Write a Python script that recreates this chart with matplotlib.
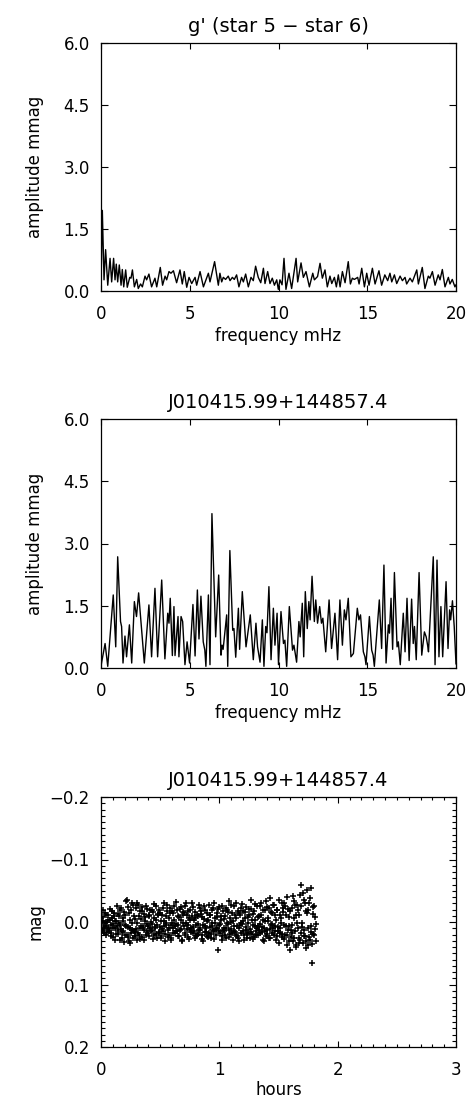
import matplotlib
import numpy as np
from matplotlib import pyplot as plt
from matplotlib.ticker import MultipleLocator, AutoMinorLocator, FuncFormatter

matplotlib.use('Agg')

plt.rcParams['font.family'] = ['DejaVu Sans']

# comparison star spectrum g' (star 5 - star 6)
cmp_freq = [0.0, 0.075, 0.17, 0.26, 0.38, 0.51, 0.60, 0.71, 0.79, 0.86, 0.94, 1.03, 1.13, 1.20,
            1.28, 1.39, 1.48, 1.62, 1.69, 1.77, 1.88, 2.01, 2.10, 2.23, 2.33, 2.48, 2.57, 2.70,
            2.85, 3.04, 3.14, 3.34, 3.47, 3.61, 3.70, 3.83, 3.94, 4.08, 4.26, 4.45, 4.58, 4.69,
            4.83, 4.96, 5.11, 5.30, 5.39, 5.58, 5.77, 6.05, 6.14, 6.40, 6.61, 6.70, 6.80, 6.89,
            7.02, 7.17, 7.27, 7.40, 7.51, 7.64, 7.77, 7.92, 8.02, 8.15, 8.30, 8.45, 8.58, 8.71,
            8.86, 9.00, 9.15, 9.24, 9.39, 9.52, 9.65, 9.77, 9.90, 9.99, 10.08, 10.20, 10.31,
            10.42, 10.59, 10.74, 10.99, 11.08, 11.27, 11.40, 11.55, 11.74, 11.93, 12.02, 12.20,
            12.34, 12.47, 12.62, 12.75, 12.90, 13.00, 13.15, 13.26, 13.37, 13.47, 13.60, 13.75,
            13.93, 14.05, 14.16, 14.27, 14.46, 14.54, 14.69, 14.84, 14.97, 15.10, 15.29, 15.44,
            15.66, 15.81, 15.99, 16.15, 16.28, 16.38, 16.53, 16.66, 16.85, 16.98, 17.13, 17.22,
            17.41, 17.54, 17.79, 17.88, 18.10, 18.25, 18.44, 18.53, 18.67, 18.82, 19.00, 19.10,
            19.23, 19.38, 19.57, 19.66, 19.79, 19.94, 20.0]
cmp_amp = [0.10, 1.95, 0.27, 1.00, 0.14, 0.79, 0.22, 0.79, 0.27, 0.65, 0.22, 0.63, 0.14, 0.52,
           0.10, 0.51, 0.09, 0.33, 0.31, 0.51, 0.10, 0.28, 0.06, 0.17, 0.10, 0.36, 0.27, 0.41,
           0.10, 0.31, 0.10, 0.57, 0.14, 0.36, 0.27, 0.47, 0.43, 0.49, 0.20, 0.51, 0.17, 0.47,
           0.09, 0.33, 0.18, 0.33, 0.14, 0.47, 0.10, 0.43, 0.22, 0.71, 0.14, 0.43, 0.22, 0.33,
           0.28, 0.36, 0.25, 0.33, 0.28, 0.39, 0.10, 0.33, 0.22, 0.41, 0.10, 0.33, 0.25, 0.60,
           0.33, 0.20, 0.55, 0.18, 0.47, 0.18, 0.31, 0.14, 0.27, 0.04, 0.27, 0.15, 0.79,
           0.04, 0.43, 0.06, 0.79, 0.22, 0.68, 0.33, 0.47, 0.10, 0.43, 0.27, 0.35,
           0.67, 0.31, 0.51, 0.10, 0.36, 0.18, 0.33, 0.10, 0.39, 0.10, 0.47, 0.20,
           0.71, 0.17, 0.31, 0.28, 0.33, 0.17, 0.55, 0.10, 0.43, 0.14, 0.55, 0.17,
           0.49, 0.14, 0.39, 0.25, 0.43, 0.22, 0.39, 0.18, 0.36, 0.25, 0.33, 0.17,
           0.31, 0.22, 0.51, 0.17, 0.57, 0.06, 0.36, 0.31, 0.47, 0.14, 0.39, 0.27,
           0.52, 0.10, 0.33, 0.17, 0.28, 0.10, 0.15]

# target spectrum J010415.99+144857.4
tgt_freq = [0.0, 0.23, 0.38, 0.69, 0.83, 0.94, 1.10, 1.16, 1.24, 1.35, 1.44, 1.60, 1.73, 1.88,
            2.00, 2.12, 2.44, 2.70, 2.85, 3.04, 3.19, 3.42, 3.60, 3.76, 3.83, 3.90, 4.02, 4.11,
            4.17, 4.34, 4.39, 4.51, 4.60, 4.73, 4.85, 4.99, 5.18, 5.30, 5.43, 5.52, 5.63, 5.76,
            5.85, 5.91, 6.05, 6.14, 6.25, 6.46, 6.63, 6.76, 6.82, 6.88, 7.08, 7.14, 7.26, 7.42,
            7.49, 7.59, 7.74, 7.81, 7.96, 8.17, 8.41, 8.58, 8.73, 8.82, 8.96, 9.09, 9.18, 9.28,
            9.35, 9.46, 9.58, 9.71, 9.80, 9.92, 10.00, 10.14, 10.28, 10.36, 10.46, 10.61, 10.79,
            10.87, 11.02, 11.15, 11.22, 11.34, 11.42, 11.51, 11.62, 11.71, 11.78, 11.89, 12.02,
            12.10, 12.20, 12.32, 12.42, 12.50, 12.66, 12.85, 12.99, 13.18, 13.33, 13.46, 13.60,
            13.71, 13.80, 13.93, 14.08, 14.22, 14.44, 14.53, 14.62, 14.78, 14.87, 14.93, 15.12,
            15.25, 15.33, 15.40, 15.48, 15.68, 15.81, 15.94, 16.06, 16.19, 16.25, 16.34, 16.43,
            16.53, 16.68, 16.75, 16.86, 17.03, 17.13, 17.24, 17.36, 17.50, 17.59, 17.66, 17.76,
            17.92, 18.07, 18.22, 18.32, 18.40, 18.45, 18.72, 18.82, 18.93, 19.04, 19.15, 19.25,
            19.44, 19.55, 19.64, 19.70, 19.80, 19.90, 20.0]
tgt_amp = [0.05, 0.59, 0.04, 1.76, 0.51, 2.68, 1.12, 1.00, 0.12, 0.77, 0.27, 1.04, 0.12, 1.60,
           1.24, 1.81, 0.12, 1.52, 0.27, 1.92, 0.27, 2.12, 0.22, 1.32, 1.08, 1.68, 0.30, 1.48,
           0.30, 1.24, 0.27, 1.24, 1.12, 0.08, 0.63, 0.12, 1.53, 0.29, 1.88, 0.70, 1.73, 0.63,
           0.43, 0.04, 1.76, 0.08, 3.72, 0.75, 2.24, 0.31, 0.55, 0.45, 1.28, 0.04, 2.83, 0.91,
           0.95, 0.26, 1.44, 0.45, 1.84, 0.51, 1.28, 0.20, 1.08, 0.51, 0.14, 1.16, 0.04, 1.00,
           0.85, 1.96, 0.20, 1.44, 0.55, 1.32, 0.08, 1.36, 0.59, 0.67, 0.04, 1.48, 0.43,
           0.55, 0.14, 1.12, 0.75, 1.56, 0.27, 1.84, 0.95, 1.60, 1.16, 2.21, 1.12,
           1.64, 1.08, 1.48, 1.08, 1.20, 0.39, 1.64, 0.47, 1.32, 0.20, 1.64, 0.55,
           1.40, 1.16, 1.68, 0.27, 0.35, 1.44, 1.16, 1.28, 0.39, 0.27, 0.08, 1.24,
           0.43, 0.31, 0.04, 0.51, 1.64, 0.47, 2.48, 0.12, 1.04, 0.84, 1.68, 0.45,
           2.30, 0.51, 0.63, 0.08, 1.32, 0.39, 1.68, 0.18, 1.66, 0.59, 1.00, 0.20,
           2.30, 0.31, 0.87, 0.75, 0.55, 0.39, 2.68, 0.08, 2.60, 0.27, 1.48, 0.27,
           2.08, 0.47, 1.40, 1.16, 1.62, 1.00, 0.10]

# light curve (hours, differential mag), two interleaved sets of exposures
lc_hours = [
    0.000, 0.007, 0.014, 0.021, 0.028, 0.035, 0.042, 0.049, 0.056, 0.063,
    0.070, 0.077, 0.084, 0.091, 0.098, 0.105, 0.112, 0.119, 0.126, 0.133,
    0.140, 0.147, 0.154, 0.161, 0.168, 0.175, 0.182, 0.189, 0.196, 0.203,
    0.210, 0.217, 0.224, 0.231, 0.238, 0.245, 0.252, 0.259, 0.266, 0.273,
    0.280, 0.287, 0.294, 0.301, 0.308, 0.315, 0.322, 0.329, 0.336, 0.343,
    0.350, 0.357, 0.364, 0.371, 0.378, 0.385, 0.392, 0.399, 0.406, 0.413,
    0.420, 0.427, 0.434, 0.441, 0.448, 0.455, 0.462, 0.469, 0.476, 0.483,
    0.490, 0.497, 0.504, 0.511, 0.518, 0.525, 0.532, 0.539, 0.546, 0.553,
    0.560, 0.567, 0.574, 0.581, 0.588, 0.595, 0.602, 0.609, 0.616, 0.623,
    0.630, 0.637, 0.644, 0.651, 0.658, 0.665, 0.672, 0.679, 0.686, 0.693,
    0.700, 0.707, 0.714, 0.721, 0.728, 0.735, 0.742, 0.749, 0.756, 0.763,
    0.770, 0.777, 0.784, 0.791, 0.798, 0.805, 0.812, 0.819, 0.826, 0.833,
    0.840, 0.847, 0.854, 0.861, 0.868, 0.875, 0.882, 0.889, 0.896, 0.903,
    0.910, 0.917, 0.924, 0.931, 0.938, 0.945, 0.952, 0.959, 0.966, 0.973,
    0.980, 0.987, 0.994, 1.001, 1.008, 1.015, 1.022, 1.029, 1.036, 1.043,
    1.050, 1.057, 1.064, 1.071, 1.078, 1.085, 1.092, 1.099, 1.106, 1.113,
    1.120, 1.127, 1.134, 1.141, 1.148, 1.155, 1.162, 1.169, 1.176, 1.183,
    1.190, 1.197, 1.204, 1.211, 1.218, 1.225, 1.232, 1.239, 1.246, 1.253,
    1.260, 1.267, 1.274, 1.281, 1.288, 1.295, 1.302, 1.309, 1.316, 1.323,
    1.330, 1.337, 1.344, 1.351, 1.358, 1.365, 1.372, 1.379, 1.386, 1.393,
    1.400, 1.407, 1.414, 1.421, 1.428, 1.435, 1.442, 1.449, 1.456, 1.463,
    1.470, 1.477, 1.484, 1.491, 1.498, 1.505, 1.512, 1.519, 1.526, 1.533,
    1.540, 1.547, 1.554, 1.561, 1.568, 1.575, 1.582, 1.589, 1.596, 1.603,
    1.610, 1.617, 1.624, 1.631, 1.638, 1.645, 1.652, 1.659, 1.666, 1.673,
    1.680, 1.687, 1.694, 1.701, 1.708, 1.715, 1.722, 1.729, 1.736, 1.743,
    1.750, 1.757, 1.764, 1.771, 1.778, 1.785, 1.792, 1.799, 1.806, 1.813,
]
lc_mag = [
    0.004, -0.008, 0.012, -0.002, 0.018, -0.015, 0.006, 0.000, -0.011, 0.009,
    0.015, -0.004, 0.022, -0.018, 0.003, 0.010, -0.009, 0.028, -0.001, 0.007,
    -0.013, 0.019, 0.002, -0.020, 0.011, 0.025, -0.006, 0.014, -0.016, 0.005,
    -0.034, 0.021, 0.008, -0.024, 0.030, -0.003, 0.017, -0.030, 0.012, 0.026,
    -0.010, 0.016, -0.022, 0.029, 0.001, -0.027, 0.020, 0.009, -0.005, 0.024,
    -0.017, 0.006, 0.013, -0.008, 0.021, -0.021, 0.003, 0.017, -0.012, 0.010,
    0.000, -0.019, 0.014, 0.027, -0.006, 0.008, -0.025, 0.019, 0.004, -0.011,
    0.016, -0.015, 0.023, -0.002, 0.011, -0.023, 0.007, 0.031, -0.009, 0.002,
    -0.028, 0.012, 0.020, -0.014, 0.005, 0.026, -0.018, 0.009, -0.004, 0.017,
    -0.032, 0.003, 0.015, -0.010, 0.022, -0.021, 0.011, -0.003, 0.028, -0.016,
    0.006, -0.026, 0.018, 0.001, -0.012, 0.024, -0.007, 0.013, -0.020, 0.009,
    -0.030, 0.017, -0.004, 0.026, -0.016, 0.004, 0.020, -0.009, 0.012, -0.023,
    0.010, -0.013, 0.021, 0.030, -0.005, 0.007, -0.019, 0.016, -0.001, 0.024,
    -0.027, 0.008, -0.011, 0.019, 0.002, -0.022, 0.014, 0.027, -0.007, 0.011,
    -0.015, 0.045, 0.005, -0.024, 0.018, -0.003, 0.022, -0.017, 0.009, 0.015,
    -0.009, 0.025, -0.020, 0.003, 0.013, -0.033, 0.019, 0.000, -0.014, 0.029,
    0.006, -0.025, 0.016, -0.006, 0.023, -0.018, 0.010, 0.031, -0.011, 0.002,
    -0.029, 0.014, -0.002, 0.021, -0.016, 0.008, 0.026, -0.008, 0.017, -0.021,
    0.011, -0.035, 0.019, 0.004, -0.013, 0.024, -0.004, 0.014, -0.026, 0.007,
    0.020, -0.010, 0.003, -0.031, 0.016, 0.029, -0.019, 0.009, -0.002, 0.022,
    -0.024, 0.012, -0.007, 0.026, -0.038, 0.005, 0.018, -0.014, 0.010, -0.028,
    0.015, -0.004, 0.023, -0.020, 0.008, 0.033, -0.011, 0.001, -0.031, 0.019,
    -0.016, 0.027, -0.026, 0.006, 0.021, -0.040, 0.012, -0.008, 0.045, 0.024,
    -0.022, 0.004, 0.030, -0.033, 0.015, -0.012, 0.040, -0.027, 0.009, 0.026,
    -0.044, 0.018, -0.060, 0.002, 0.034, -0.036, 0.022, -0.018, 0.041, -0.052,
    0.010, -0.030, 0.028, -0.055, 0.016, 0.065, -0.024, 0.020, -0.008, 0.031,
]
lc_hours_b = [
    0.0035, 0.0105, 0.0175, 0.0245, 0.0315, 0.0385, 0.0455, 0.0525, 0.0595, 0.0665,
    0.0735, 0.0805, 0.0875, 0.0945, 0.1015, 0.1085, 0.1155, 0.1225, 0.1295, 0.1365,
    0.1435, 0.1505, 0.1575, 0.1645, 0.1715, 0.1785, 0.1855, 0.1925, 0.1995, 0.2065,
    0.2135, 0.2205, 0.2275, 0.2345, 0.2415, 0.2485, 0.2555, 0.2625, 0.2695, 0.2765,
    0.2835, 0.2905, 0.2975, 0.3045, 0.3115, 0.3185, 0.3255, 0.3325, 0.3395, 0.3465,
    0.3535, 0.3605, 0.3675, 0.3745, 0.3815, 0.3885, 0.3955, 0.4025, 0.4095, 0.4165,
    0.4235, 0.4305, 0.4375, 0.4445, 0.4515, 0.4585, 0.4655, 0.4725, 0.4795, 0.4865,
    0.4935, 0.5005, 0.5075, 0.5145, 0.5215, 0.5285, 0.5355, 0.5425, 0.5495, 0.5565,
    0.5635, 0.5705, 0.5775, 0.5845, 0.5915, 0.5985, 0.6055, 0.6125, 0.6195, 0.6265,
    0.6335, 0.6405, 0.6475, 0.6545, 0.6615, 0.6685, 0.6755, 0.6825, 0.6895, 0.6965,
    0.7035, 0.7105, 0.7175, 0.7245, 0.7315, 0.7385, 0.7455, 0.7525, 0.7595, 0.7665,
    0.7735, 0.7805, 0.7875, 0.7945, 0.8015, 0.8085, 0.8155, 0.8225, 0.8295, 0.8365,
    0.8435, 0.8505, 0.8575, 0.8645, 0.8715, 0.8785, 0.8855, 0.8925, 0.8995, 0.9065,
    0.9135, 0.9205, 0.9275, 0.9345, 0.9415, 0.9485, 0.9555, 0.9625, 0.9695, 0.9765,
    0.9835, 0.9905, 0.9975, 1.0045, 1.0115, 1.0185, 1.0255, 1.0325, 1.0395, 1.0465,
    1.0535, 1.0605, 1.0675, 1.0745, 1.0815, 1.0885, 1.0955, 1.1025, 1.1095, 1.1165,
    1.1235, 1.1305, 1.1375, 1.1445, 1.1515, 1.1585, 1.1655, 1.1725, 1.1795, 1.1865,
    1.1935, 1.2005, 1.2075, 1.2145, 1.2215, 1.2285, 1.2355, 1.2425, 1.2495, 1.2565,
    1.2635, 1.2705, 1.2775, 1.2845, 1.2915, 1.2985, 1.3055, 1.3125, 1.3195, 1.3265,
    1.3335, 1.3405, 1.3475, 1.3545, 1.3615, 1.3685, 1.3755, 1.3825, 1.3895, 1.3965,
    1.4035, 1.4105, 1.4175, 1.4245, 1.4315, 1.4385, 1.4455, 1.4525, 1.4595, 1.4665,
    1.4735, 1.4805, 1.4875, 1.4945, 1.5015, 1.5085, 1.5155, 1.5225, 1.5295, 1.5365,
    1.5435, 1.5505, 1.5575, 1.5645, 1.5715, 1.5785, 1.5855, 1.5925, 1.5995, 1.6065,
    1.6135, 1.6205, 1.6275, 1.6345, 1.6415, 1.6485, 1.6555, 1.6625, 1.6695, 1.6765,
    1.6835, 1.6905, 1.6975, 1.7045, 1.7115, 1.7185, 1.7255, 1.7325, 1.7395, 1.7465,
    1.7535, 1.7605, 1.7675, 1.7745, 1.7815, 1.7885, 1.7955, 1.8025, 1.8095, 1.8165,
]
lc_mag_b = [
    -0.006, 0.014, -0.019, 0.008, 0.001, 0.021, -0.012, 0.016, -0.003, 0.011,
    -0.021, 0.005, 0.017, -0.007, 0.024, -0.014, 0.009, -0.001, 0.019, -0.025,
    0.013, -0.009, 0.029, 0.004, -0.022, 0.016, -0.002, 0.032, -0.011, 0.020,
    0.007, -0.036, 0.024, -0.015, 0.010, 0.033, -0.020, 0.002, -0.028, 0.014,
    0.022, -0.005, 0.011, -0.031, 0.018, -0.009, 0.027, -0.017, 0.006, -0.024,
    0.009, -0.013, 0.028, -0.002, -0.026, 0.014, 0.006, -0.010, 0.023, -0.019,
    0.012, 0.003, -0.016, 0.021, -0.029, 0.010, -0.004, 0.025, -0.013, 0.017,
    -0.020, 0.008, 0.026, -0.011, 0.015, -0.001, -0.031, 0.019, 0.004, -0.017,
    0.024, -0.007, 0.010, -0.022, 0.029, 0.002, -0.015, 0.018, -0.026, 0.007,
    0.015, -0.019, 0.004, 0.022, -0.008, 0.013, -0.024, 0.030, -0.012, 0.001,
    -0.015, 0.021, -0.030, 0.011, 0.005, -0.018, 0.027, -0.003, 0.016, -0.010,
    0.008, -0.024, 0.014, -0.006, 0.023, -0.012, 0.003, 0.019, -0.027, 0.012,
    -0.018, 0.027, -0.008, 0.004, -0.025, 0.016, 0.009, -0.014, 0.022, -0.003,
    0.017, -0.012, 0.025, -0.019, 0.006, 0.013, -0.031, 0.002, 0.020, -0.008,
    0.010, -0.021, 0.015, 0.003, -0.010, 0.028, -0.026, 0.012, -0.005, 0.021,
    -0.023, 0.009, 0.002, -0.016, 0.024, -0.006, 0.011, -0.028, 0.017, -0.001,
    0.014, -0.011, 0.020, -0.030, 0.007, 0.026, -0.015, 0.004, -0.022, 0.018,
    0.003, -0.018, 0.029, -0.007, 0.012, -0.024, 0.019, 0.001, -0.012, 0.025,
    -0.021, 0.016, -0.003, 0.027, -0.017, 0.006, -0.029, 0.021, 0.010, -0.008,
    0.013, -0.025, 0.018, -0.012, 0.008, -0.004, 0.031, -0.020, 0.015, -0.033,
    0.019, -0.002, -0.022, 0.011, 0.025, -0.016, 0.003, -0.027, 0.021, 0.006,
    -0.012, 0.028, -0.019, 0.014, -0.035, 0.009, 0.018, -0.006, 0.024, -0.023,
    0.004, -0.030, 0.020, -0.011, 0.036, -0.021, 0.007, 0.030, -0.017, 0.012,
    0.018, -0.041, 0.025, -0.006, -0.028, 0.037, 0.002, -0.019, 0.033, -0.011,
    0.028, -0.025, 0.008, -0.047, 0.023, 0.012, -0.031, 0.030, -0.014, 0.036,
    -0.020, 0.024, -0.038, 0.007, 0.035, -0.013, 0.019, -0.026, 0.011, 0.003,
]

spec_title_1 = "g' (star 5 \u2212 star 6)"
target_name = 'J010415.99+144857.4'

fig = plt.figure(figsize=(4.68, 11.09), dpi=100)
left, width = 101 / 468, 355 / 468
ax1 = fig.add_axes([left, 1 - 291 / 1109, width, 248 / 1109])
ax2 = fig.add_axes([left, 1 - 668 / 1109, width, 249 / 1109])
ax3 = fig.add_axes([left, 1 - 1047 / 1109, width, 250 / 1109])

# 刻度标签用长减号
minus_fmt = FuncFormatter(lambda v, pos: ('%.1f' % (0.0 if abs(v) < 1e-9 else v)).replace('-', '\u2212'))


def style_axes(ax):
    for s in ax.spines.values():
        s.set_linewidth(0.9)
    ax.tick_params(which='both', direction='in', top=True, right=True, labelsize=12, width=0.8)
    ax.tick_params(axis='x', which='major', length=4, pad=10)
    ax.tick_params(axis='y', which='major', length=5, pad=8)


# 频谱图
for ax, f, a, title in [(ax1, cmp_freq, cmp_amp, spec_title_1), (ax2, tgt_freq, tgt_amp, target_name)]:
    ax.plot(f, a, color='black', lw=1.0)
    ax.set_xlim(0, 20)
    ax.set_ylim(0, 6.0)
    ax.xaxis.set_major_locator(MultipleLocator(5))
    ax.yaxis.set_major_locator(MultipleLocator(1.5))
    ax.yaxis.set_major_formatter(minus_fmt)
    style_axes(ax)
    ax.set_title(title, fontsize=14, pad=8)
    ax.set_xlabel('frequency mHz', fontsize=12)
    ax.set_ylabel('amplitude mmag', fontsize=12)
    ax.xaxis.set_label_coords(0.5, -0.145)
    ax.yaxis.set_label_coords(-0.16, 0.5)

# 光变曲线
for t, m in [(lc_hours, lc_mag), (lc_hours_b, lc_mag_b)]:
    ax3.plot(t, m, linestyle='none', marker='+', color='black', markersize=5, markeredgewidth=1.1)
ax3.set_xlim(0, 3)
ax3.set_ylim(0.2, -0.2)
ax3.xaxis.set_major_locator(MultipleLocator(1))
ax3.yaxis.set_major_locator(MultipleLocator(0.1))
ax3.yaxis.set_major_formatter(minus_fmt)
ax3.xaxis.set_minor_locator(AutoMinorLocator(10))
ax3.yaxis.set_minor_locator(AutoMinorLocator(10))
style_axes(ax3)
ax3.tick_params(axis='x', which='minor', length=2.5)
ax3.tick_params(axis='y', which='minor', length=3)
ax3.set_title(target_name, fontsize=14, pad=8)
ax3.set_xlabel('hours', fontsize=12)
ax3.set_ylabel('mag', fontsize=12)
ax3.xaxis.set_label_coords(0.5, -0.135)
ax3.yaxis.set_label_coords(-0.16, 0.5)

plt.savefig('out.png', dpi=100)
plt.close()
